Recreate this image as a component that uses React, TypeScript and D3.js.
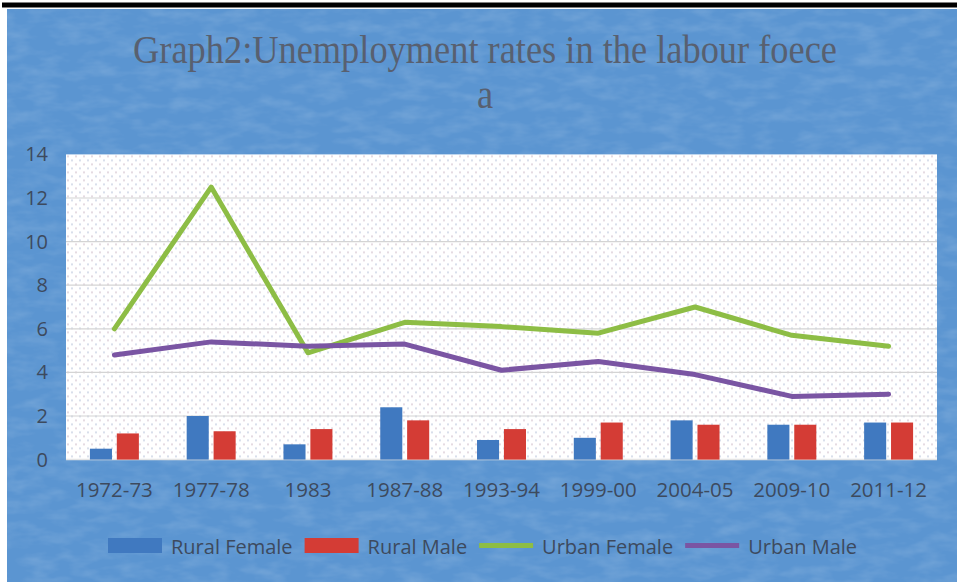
import React from "react";
import * as d3 from "d3";

const categories = ["1972-73", "1977-78", "1983", "1987-88", "1993-94", "1999-00", "2004-05", "2009-10", "2011-12"];
const ruralFemale = [0.5, 2.0, 0.7, 2.4, 0.9, 1.0, 1.8, 1.6, 1.7];
const ruralMale = [1.2, 1.3, 1.4, 1.8, 1.4, 1.7, 1.6, 1.6, 1.7];
const urbanFemale = [6.0, 12.5, 4.9, 6.3, 6.1, 5.8, 7.0, 5.7, 5.2];
const urbanMale = [4.8, 5.4, 5.2, 5.3, 4.1, 4.5, 3.9, 2.9, 3.0];
const yTicks = [0, 2, 4, 6, 8, 10, 12, 14];
const legendItems = [
  { name: "Rural Female", kind: "bar", color: "#4079c0" },
  { name: "Rural Male", kind: "bar", color: "#d43c35" },
  { name: "Urban Female", kind: "line", color: "#8dbd45" },
  { name: "Urban Male", kind: "line", color: "#7a55a3" },
];

const W = 957;
const H = 582;
const plot = { left: 66, right: 937, top: 154.4, bottom: 459.6 };
const textColor = "#3d4a5e";
const font = "'Open Sans', sans-serif";

function measure(text: string, size: number) {
  const c = document.createElement("canvas").getContext("2d");
  if (!c) return text.length * size * 0.5;
  c.font = `${size}px 'Open Sans'`;
  return c.measureText(text).width;
}

export default function App() {
  const x = d3.scaleBand<string>().domain(categories).range([plot.left, plot.right]).padding(0);
  const y = d3.scaleLinear().domain([0, 14]).range([plot.bottom, plot.top]);
  const bw = x.bandwidth() * 0.228;
  const gap = x.bandwidth() * 0.05;
  const cx = (c: string) => (x(c) as number) + x.bandwidth() / 2;
  const line = d3
    .line<number>()
    .x((_, i) => cx(categories[i]))
    .y((d) => y(d));

  const legSize = 20;
  let lx = 108;
  const legend = legendItems.map((it) => {
    const sx = lx;
    const tw = measure(it.name, legSize);
    const tx = sx + 54 + 9;
    lx = tx + tw + 12;
    return { ...it, sx, tx };
  });

  return (
    <svg width={W} height={H} style={{ position: "absolute", left: 0, top: 0 }}>
      <defs>
        <pattern id="dots" width="8" height="8" patternUnits="userSpaceOnUse" x={plot.left} y={plot.top}>
          <rect width="8" height="8" fill="#ffffff" />
          <circle cx="2" cy="2" r="0.8" fill="#c4aebd" />
          <circle cx="6" cy="6" r="0.8" fill="#a9b7d2" />
        </pattern>
        <filter id="tex" x="0" y="0" width="100%" height="100%">
          <feTurbulence type="fractalNoise" baseFrequency="0.035 0.09" numOctaves="3" seed="7" result="n" />
          <feColorMatrix
            in="n"
            type="matrix"
            values="0 0 0 0 1  0 0 0 0 1  0 0 0 0 1  0 0 0 1.4 -0.55"
          />
        </filter>
      </defs>
      <rect x={0} y={0} width={W} height={H} fill="#ffffff" />
      <rect x={2} y={2.5} width={W - 2} height={5} fill="#000000" />
      <rect x={7} y={9} width={W - 7} height={H - 9} fill="#5b95d1" />
      <rect x={7} y={9} width={W - 7} height={H - 9} filter="url(#tex)" opacity={0.18} />

      <g transform="translate(485,63) scale(0.97,1.08)">
        <text x={0} y={0} textAnchor="middle" fontFamily="'Liberation Serif', serif" fontSize={37.5} fill="#586070">
          Graph2:Unemployment rates in the labour foece
        </text>
      </g>
      <g transform="translate(485,108) scale(0.97,1.08)">
        <text x={0} y={0} textAnchor="middle" fontFamily="'Liberation Serif', serif" fontSize={37.5} fill="#586070">
          a
        </text>
      </g>

      <rect x={plot.left} y={plot.top} width={plot.right - plot.left} height={plot.bottom - plot.top} fill="url(#dots)" />
      {yTicks
        .filter((t) => t > 0 && t < 14)
        .map((t) => (
          <line key={t} x1={plot.left} x2={plot.right} y1={y(t)} y2={y(t)} stroke="#d4d4d4" strokeWidth={1.2} />
        ))}
      <line x1={plot.left} x2={plot.right} y1={y(0)} y2={y(0)} stroke="#e4e4e4" strokeWidth={1.5} />

      {yTicks.map((t) => (
        <text key={t} x={48} y={y(t)} dy="0.35em" textAnchor="end" fontFamily={font} fontSize={20} fill={textColor}>
          {t}
        </text>
      ))}
      {categories.map((c) => (
        <text key={c} x={cx(c)} y={497} textAnchor="middle" fontFamily={font} fontSize={20.5} fill={textColor}>
          {c}
        </text>
      ))}

      {categories.map((c, i) => (
        <g key={c}>
          <rect x={cx(c) - gap / 2 - bw} y={y(ruralFemale[i])} width={bw} height={y(0) - y(ruralFemale[i])} fill="#4079c0" />
          <rect x={cx(c) + gap / 2} y={y(ruralMale[i])} width={bw} height={y(0) - y(ruralMale[i])} fill="#d43c35" />
        </g>
      ))}

      <path d={line(urbanFemale) || ""} fill="none" stroke="#8dbd45" strokeWidth={5} strokeLinejoin="round" strokeLinecap="round" />
      <path d={line(urbanMale) || ""} fill="none" stroke="#7a55a3" strokeWidth={5} strokeLinejoin="round" strokeLinecap="round" />

      {legend.map((it) => (
        <g key={it.name}>
          {it.kind === "bar" ? (
            <rect x={it.sx} y={538} width={54} height={15} fill={it.color} />
          ) : (
            <line x1={it.sx} x2={it.sx + 54} y1={545.5} y2={545.5} stroke={it.color} strokeWidth={5} />
          )}
          <text x={it.tx} y={553.5} fontFamily={font} fontSize={legSize} fill={textColor}>
            {it.name}
          </text>
        </g>
      ))}
    </svg>
  );
}
